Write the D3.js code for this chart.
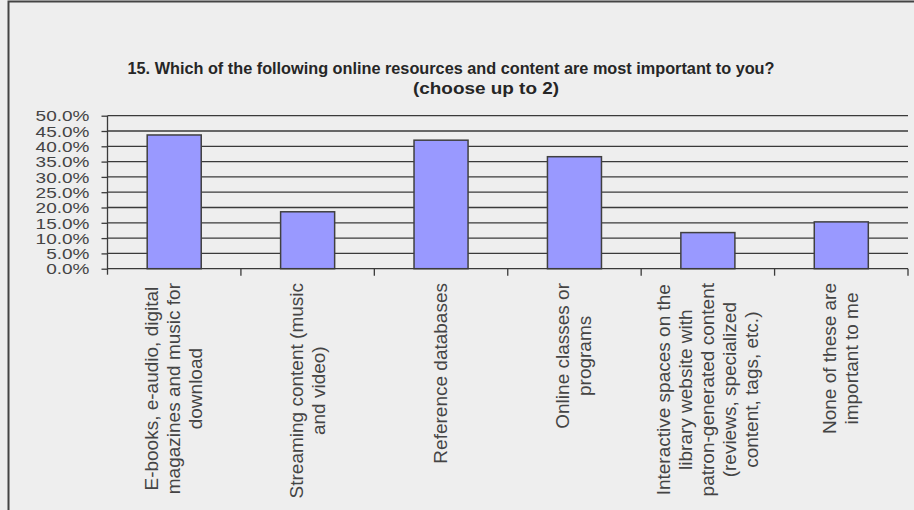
<!DOCTYPE html>
<html>
<head>
<meta charset="utf-8">
<script src="https://cdn.jsdelivr.net/npm/d3@7"></script>
<style>
  html, body { margin: 0; padding: 0; background: #eeeeee; }
  svg { display: block; }
</style>
</head>
<body>
<svg id="chart" width="914" height="510"></svg>
<script>
// Survey question 15: share of respondents choosing each online resource
const categories = [
  ["E-books, e-audio, digital", "magazines and  music for", "download"],
  ["Streaming content (music", "and video)"],
  ["Reference databases"],
  ["Online classes or", "programs"],
  ["Interactive spaces on the", "library website with", "patron-generated content", "(reviews, specialized", "content, tags, etc.)"],
  ["None of these are", "important to me"]
];
const values = [43.7, 18.6, 42.0, 36.6, 11.8, 15.3];
const yTicks = [0, 5, 10, 15, 20, 25, 30, 35, 40, 45, 50];
const titleLines = [
  "15. Which of the following online resources and content are most important to you?",
  "(choose up to 2)"
];

const svg = d3.select("#chart");
const W = 914, H = 510;
const ink = "#3a3a3a";

// chart area background and frame
svg.append("rect").attr("x", 0).attr("y", 0).attr("width", W).attr("height", H).attr("fill", "#eeeeee");
svg.append("path")
  .attr("d", `M8.5,${H} V1.5 H${W}`)
  .attr("fill", "none").attr("stroke", "#444").attr("stroke-width", 2);

// plot area
const plot = { left: 107.5, right: 908, top: 115.7, bottom: 268.7 };

const x = d3.scaleBand()
  .domain(d3.range(categories.length))
  .range([plot.left, plot.right])
  .paddingInner(0.595).paddingOuter(0.2975);

const y = d3.scaleLinear().domain([0, 50]).range([plot.bottom, plot.top]);

// title
const title = svg.append("g").attr("font-family", "'Liberation Sans', Arial, sans-serif")
  .attr("font-weight", "bold").attr("fill", "#262626");
title.append("text").attr("x", 451).attr("y", 74).attr("text-anchor", "middle")
  .attr("font-size", 16).attr("textLength", 647).attr("lengthAdjust", "spacingAndGlyphs")
  .text(titleLines[0]);
title.append("text").attr("x", 486).attr("y", 94).attr("text-anchor", "middle")
  .attr("font-size", 16).attr("textLength", 146).attr("lengthAdjust", "spacingAndGlyphs")
  .text(titleLines[1]);

// horizontal gridlines
svg.append("g")
  .selectAll("line").data(yTicks.filter(d => d > 0)).join("line")
  .attr("x1", plot.left).attr("x2", plot.right)
  .attr("y1", d => y(d)).attr("y2", d => y(d))
  .attr("stroke", ink).attr("stroke-width", 1.3);

// y axis; labels are packed tightly, so a compact size stretched to full width
const yAxis = svg.append("g").attr("transform", `translate(${plot.left},0)`)
  .call(d3.axisLeft(y).tickValues(yTicks).tickSize(6).tickPadding(12)
    .tickFormat(d => d3.format(".1f")(d) + "%"));
yAxis.select(".domain").attr("d", `M0,${plot.top}V${plot.bottom + 6}`).attr("stroke", ink).attr("stroke-width", 1.3);
yAxis.selectAll(".tick line").attr("stroke", ink).attr("stroke-width", 1.3);
yAxis.selectAll(".tick text")
  .attr("font-family", "'Liberation Sans', Arial, sans-serif").attr("font-size", 15)
  .attr("fill", "#444").attr("dy", "0.35em")
  .each(function () {
    const w = this.getComputedTextLength() * 19 / 15;
    d3.select(this).attr("textLength", w).attr("lengthAdjust", "spacingAndGlyphs");
  });

// bars
svg.append("g").selectAll("rect").data(values).join("rect")
  .attr("x", (d, i) => x(i)).attr("width", x.bandwidth())
  .attr("y", d => y(d)).attr("height", d => y(0) - y(d))
  .attr("fill", "#9999ff").attr("stroke", "#404040").attr("stroke-width", 1.5);

// x axis baseline and category boundary ticks
const step = x.step();
const xg = svg.append("g");
xg.append("line").attr("x1", plot.left).attr("x2", plot.right)
  .attr("y1", plot.bottom).attr("y2", plot.bottom).attr("stroke", ink).attr("stroke-width", 1.3);
xg.selectAll("line.tk").data(d3.range(1, categories.length + 1)).join("line").attr("class", "tk")
  .attr("x1", i => plot.left + i * step).attr("x2", i => plot.left + i * step)
  .attr("y1", plot.bottom).attr("y2", plot.bottom + 7)
  .attr("stroke", ink).attr("stroke-width", 1.3);

// rotated multi-line category labels, top-aligned just under the axis
const lineGap = 22;
const labelTop = 283;
const lab = svg.append("g").attr("font-family", "'Liberation Sans', Arial, sans-serif")
  .attr("font-size", 19).attr("fill", "#444");
categories.forEach((lines, i) => {
  const cx = x(i) + x.bandwidth() / 2;
  const texts = lines.map((t, j) => {
    const bx = cx + (j - (lines.length - 1) / 2) * lineGap + 6;
    return lab.append("text").attr("text-anchor", "middle").text(t)
      .attr("data-bx", bx);
  });
  const maxLen = d3.max(texts, t => t.node().getComputedTextLength());
  const cy = labelTop + maxLen / 2;
  texts.forEach(t => {
    const bx = +t.attr("data-bx");
    t.attr("transform", `translate(${bx},${cy}) rotate(-90)`).attr("data-bx", null);
  });
});
</script>
</body>
</html>
